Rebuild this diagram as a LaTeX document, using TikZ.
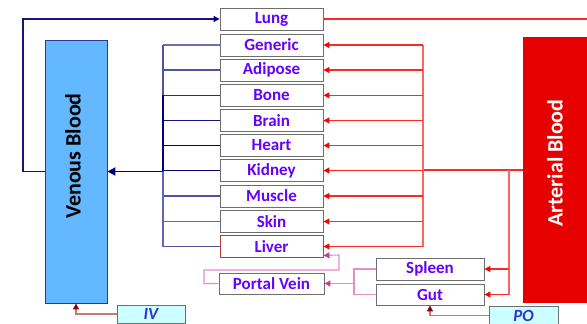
\documentclass[tikz,border=0pt]{standalone}
\usepackage{fontspec}
\setmainfont{Carlito}
\usetikzlibrary{arrows.meta}
\definecolor{txt}{RGB}{102,0,255}
\definecolor{boxgray}{RGB}{110,110,110}
\definecolor{navy}{RGB}{0,0,128}
\definecolor{venfill}{RGB}{99,184,255}
\definecolor{artred}{RGB}{230,0,0}
\definecolor{lred}{RGB}{255,40,40}
\definecolor{pred}{RGB}{255,100,100}
\definecolor{pinkl}{RGB}{230,140,200}
\definecolor{pinka}{RGB}{200,60,160}
\definecolor{ivline}{RGB}{200,120,120}
\definecolor{ivarrow}{RGB}{140,0,0}
\definecolor{poboxfill}{RGB}{204,255,255}
\definecolor{potext}{RGB}{50,50,210}
\definecolor{blA}{RGB}{110,110,180}
\definecolor{blB}{RGB}{80,80,165}
\definecolor{blC}{RGB}{40,40,145}
\definecolor{blD}{RGB}{20,20,135}
\definecolor{blE}{RGB}{100,100,185}
\begin{document}
\begin{tikzpicture}[x=1pt,y=-1pt,
  organ/.style={draw=boxgray,line width=0.9pt,fill=white,minimum width=103pt,minimum height=22pt,inner sep=0pt,
    text=txt,font=\fontsize{17}{20}\selectfont\bfseries},
  dose/.style={draw=boxgray,line width=0.9pt,fill=poboxfill,inner sep=0pt,
    text=potext,font=\fontsize{17}{20}\selectfont\bfseries\itshape},
  ven/.style={line width=1.1pt},
  art/.style={draw=lred,line width=1.1pt},
  artv/.style={draw=pred,line width=1.1pt},
  arta/.style={art,-{Triangle[length=6pt,width=6pt,color=red]}},
  pvl/.style={draw=pinkl,line width=1.1pt},
  pva/.style={pvl,-{Triangle[length=6pt,width=6pt,color=pinka]}},
  doseline/.style={draw=ivline,line width=1.1pt,-{Triangle[length=6pt,width=6pt,color=ivarrow]}}
]
\useasboundingbox (0,0) rectangle (587,324);

% blood pools
\node[draw=navy!80,line width=0.8pt,fill=venfill,minimum width=62pt,minimum height=263pt,inner sep=0pt] (venous) at (76,171.5) {};
\node[rotate=90,font=\fontsize{22}{26}\selectfont\bfseries] (ventext) at (73,156) {Venous Blood};
\node[fill=artred,minimum width=65pt,minimum height=266pt,inner sep=0pt] (arterial) at (555.5,170) {};
\node[rotate=90,text=white,font=\fontsize{22}{26}\selectfont\bfseries] (arttext) at (555,163) {Arterial Blood};

% organs
\node[organ] (lung) at (271.5,19) {Lung};
\node[organ] (generic) at (271.5,45) {Generic};
\node[organ] (adipose) at (271.5,70) {Adipose};
\node[organ] (bone) at (271.5,95.3) {Bone};
\node[organ] (brain) at (271.5,120.5) {Brain};
\node[organ] (heart) at (271.5,145.5) {Heart};
\node[organ] (kidney) at (271.5,170.5) {Kidney};
\node[organ] (muscle) at (271.5,196) {Muscle};
\node[organ] (skin) at (271.5,221.5) {Skin};
\node[organ,draw={rgb,255:red,180;green,60;blue,60}] (liver) at (271.5,246.5) {Liver};
\node[organ,minimum width=105pt,minimum height=21pt] (portal) at (271.5,283.5) {Portal Vein};
\node[organ,minimum width=108pt] (spleen) at (430,269) {Spleen};
\node[organ,minimum width=108pt,minimum height=21pt] (gut) at (430,294.5) {Gut};
\node[dose,minimum width=68pt,minimum height=18pt] (iv) at (151,314) {IV};
\node[dose,minimum width=69pt,minimum height=19pt] (po) at (523.5,315.5) {PO};

% helper coordinates
\coordinate (vl) at (23,0);
\coordinate (vc) at (163,0);
\coordinate (ac) at (423,0);
\coordinate (ac2) at (509,0);
\coordinate (redge) at (588,0);
\coordinate (pl1) at (204,270);
\coordinate (pl2) at (339,255);
\coordinate (sc) at (354,0);

% venous -> lung
\draw[ven,draw=blD,-{Triangle[length=6pt,width=6pt,color=navy]}]
  (venous.west) -- (venous.west -| vl) |- (lung.west);
% lung -> arterial (off to right)
\draw[art] (lung.east) -- (lung.east -| redge);

% organs -> venous
\draw[ven,draw=blA] (generic.west) -- (generic.west -| vc);
\draw[ven,draw=blB] (adipose.west) -- (adipose.west -| vc);
\draw[ven,draw=blC] (bone.west) -- (bone.west -| vc);
\draw[ven,draw=blD] (brain.west) -- (brain.west -| vc);
\draw[ven,draw=navy] (heart.west) -- (heart.west -| vc);
\draw[ven,draw=navy] (kidney.west) -- (kidney.west -| vc);
\draw[ven,draw=blB] (muscle.west) -- (muscle.west -| vc);
\draw[ven,draw=blE] (skin.west) -- (skin.west -| vc);
\draw[ven,draw=blB] (liver.west) -- (liver.west -| vc);
\draw[ven,draw=blB] (generic.west -| vc) -- (bone.west -| vc);
\draw[ven,draw=navy] (bone.west -| vc) -- (kidney.west -| vc);
\draw[ven,draw=blE] (kidney.west -| vc) -- (liver.west -| vc);
\draw[line width=1.8pt,draw=navy,-{Triangle[length=8pt,width=8pt]}] (vc |- venous.east) -- (venous.east);

% arterial -> organs
\draw[art] (arterial.west) -- (arterial.west -| ac);
\draw[artv] (ac |- generic.east) -- (ac |- liver.east);
\foreach \o in {generic,adipose,bone,brain,heart,kidney,muscle,skin,liver}
  \draw[arta] (ac |- \o.east) -- (\o.east);
\draw[artv] (ac2 |- arterial.west) -- (ac2 |- gut.east);
\draw[arta] (ac2 |- spleen.east) -- (spleen.east);
\draw[arta] (ac2 |- gut.east) -- (gut.east);

% portal circulation
\draw[pva] (portal.west) -| (pl1) -| (pl2) -- ([yshift=2.5pt]liver.south east);
\draw[pvl] (spleen.west) -- (spleen.west -| sc) -- (gut.west -| sc) -- (gut.west);
\draw[pva] (sc |- portal.east) -- (portal.east);

% dosing
\draw[doseline] (iv.west) -| (venous.south);
\draw[doseline] (po.west) -| (gut.south);
\end{tikzpicture}
\end{document}
